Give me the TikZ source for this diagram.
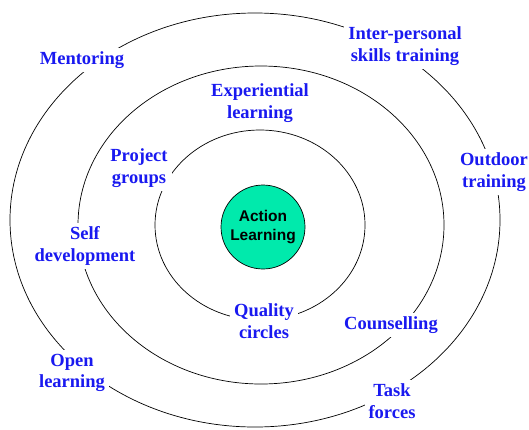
\documentclass[tikz,border=0pt]{standalone}
\usepackage{fontspec}
\setmainfont{Liberation Serif}
\newfontfamily\arialfont{Liberation Sans}
\definecolor{ringblue}{RGB}{25,25,240}
\definecolor{coregreen}{RGB}{0,234,172}
\begin{document}
\begin{tikzpicture}[x=1pt, y=-1pt,
    ring/.style={line width=0.7pt},
    method/.style={fill=white, inner sep=4pt, align=center, text=ringblue,
        font=\fontsize{18.5}{21.5}\selectfont\bfseries}]
    \useasboundingbox (0,0) rectangle (529,429);

    % Rings.
    \draw[ring] (255,220) ellipse [x radius=245, y radius=207];
    \draw[ring] (261,225) ellipse [x radius=183, y radius=159];
    \draw[ring] (260,225) ellipse [x radius=105, y radius=95];

    % Core.
    \node[circle, draw, line width=0.7pt, fill=coregreen, minimum size=84pt, align=center,
        font=\arialfont\fontsize{15.5}{19}\selectfont\bfseries] (core) at (263,227) {Action\\Learning};

    % Outer ring.
    \node[method] (mentor) at (82,60) {Mentoring};
    \node[method] (skills) at (405,46) {Inter-personal\\skills training};
    \node[method] (outdoor) at (494,172) {Outdoor\\training};
    \node[method] (open) at (72,373) {Open\\learning};
    \node[method] (task) at (392,401) {Task\\forces};

    % Middle ring.
    \node[method] (exper) at (260,103) {Experiential\\learning};
    \node[method] (self) at (85,246) {Self\\development};
    \node[method] (counsel) at (391,325) {Counselling};

    % Inner ring.
    \node[method] (project) at (139,168) {Project\\groups};
    \node[method] (quality) at (264,321) {Quality\\circles};

\end{tikzpicture}
\end{document}
